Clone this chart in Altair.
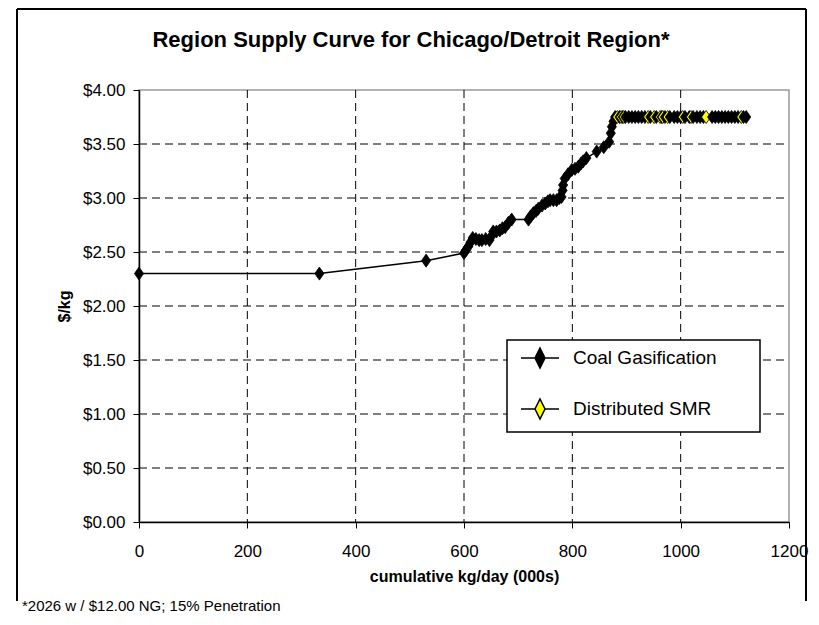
import altair as alt
import pandas as pd

# ---- data ----
coal_rise_x = [0, 333, 530, 600, 604, 608, 612, 616, 622, 628,
               633, 640, 647, 651, 654, 660, 666, 671, 676, 682,
               688, 719, 723, 728, 733, 737, 744, 750, 755, 759,
               765, 771, 776, 780, 782, 783, 786, 792, 799, 805,
               811, 816, 820, 826, 845, 858, 868, 871, 873, 876,
               879]
coal_rise_y = [2.30, 2.30, 2.42, 2.49, 2.52, 2.55, 2.59, 2.63, 2.62, 2.61,
               2.61, 2.62, 2.61, 2.65, 2.69, 2.69, 2.70, 2.72, 2.73, 2.77,
               2.80, 2.80, 2.83, 2.86, 2.88, 2.90, 2.93, 2.95, 2.97, 2.98,
               2.98, 2.98, 3.00, 3.01, 3.07, 3.12, 3.18, 3.22, 3.26, 3.27,
               3.29, 3.32, 3.34, 3.37, 3.43, 3.47, 3.52, 3.60, 3.66, 3.71,
               3.75]
coal_flat_x = [887, 893, 898, 904, 910, 916, 922, 928, 934, 944,
               955, 965, 971, 980, 988, 994, 1000, 1008, 1016, 1023,
               1030, 1036, 1042, 1058, 1064, 1070, 1076, 1082, 1088, 1094,
               1100, 1106, 1116, 1121]
coal_flat_y = [3.75, 3.75, 3.75, 3.75, 3.75, 3.75, 3.75, 3.75, 3.75, 3.75,
               3.75, 3.75, 3.75, 3.75, 3.75, 3.75, 3.75, 3.75, 3.75, 3.75,
               3.75, 3.75, 3.75, 3.75, 3.75, 3.75, 3.75, 3.75, 3.75, 3.75,
               3.75, 3.75, 3.75, 3.75]
smr_x = [883, 890, 895, 940, 951, 962, 967, 976, 1004, 1019, 1047, 1112]
smr_y = [3.75, 3.75, 3.75, 3.75, 3.75, 3.75, 3.75, 3.75, 3.75, 3.75, 3.75, 3.75]

series_names = ["Coal Gasification", "Distributed SMR"]
series_fill = ["#000000", "#FFFF00"]

x_ticks = [0, 200, 400, 600, 800, 1000, 1200]
y_ticks = [0, 0.5, 1.0, 1.5, 2.0, 2.5, 3.0, 3.5, 4.0]
x_grid = [200, 400, 600, 800, 1000]
y_grid = [0.5, 1.0, 1.5, 2.0, 2.5, 3.0, 3.5]

title_text = "Region Supply Curve for Chicago/Detroit Region*"
x_title = "cumulative kg/day (000s)"
y_title = "$/kg"
footnote = "*2026 w / $12.00 NG; 15% Penetration"

FONT = "Liberation Sans"
W, H = 650, 432

coal = pd.DataFrame({"x": coal_rise_x + coal_flat_x, "y": coal_rise_y + coal_flat_y,
                     "series": series_names[0]})
smr = pd.DataFrame({"x": smr_x, "y": smr_y, "series": series_names[1]})
pts = pd.concat([coal, smr]).sort_values("x", kind="stable").reset_index(drop=True)
pts["order"] = list(range(len(pts)))

xs = alt.Scale(domain=[0, 1200], nice=False, zero=False)
ys = alt.Scale(domain=[0, 4], nice=False)

x_axis = alt.Axis(values=x_ticks, title=x_title, grid=False, format="d", labelFlush=False,
                  labelPadding=15, titlePadding=9)
y_axis = alt.Axis(values=y_ticks, title=y_title, grid=False, format="$.2f", labelFlush=False,
                  labelPadding=8, titlePadding=10)

X = alt.X("x:Q", scale=xs, axis=x_axis)
Y = alt.Y("y:Q", scale=ys, axis=y_axis)

gx = pd.DataFrame({"x": x_grid})
gy = pd.DataFrame({"y": y_grid})

grid_x = alt.Chart(gx).mark_rule(color="black", strokeWidth=1, strokeDash=[8, 5]).encode(
    x=X, y=alt.value(0), y2=alt.value(H))
grid_y = alt.Chart(gy).mark_rule(color="black", strokeWidth=1, strokeDash=[8, 5]).encode(
    y=Y, x=alt.value(0), x2=alt.value(W))

lines = alt.Chart(pts).mark_line(color="black", strokeWidth=1.5).encode(
    x=X, y=Y, detail="series:N", order="x:Q")

DIAMOND = "M0,-1L0.7,0L0,1L-0.7,0Z"
LEG_SYM = "M-1.9,0L-0.5,0M0,-1L0.5,0L0,1L-0.5,0ZM0.5,0L1.9,0"

points = alt.Chart(pts).mark_point(shape=DIAMOND, size=170, filled=True, opacity=1,
                                   stroke="black", strokeWidth=0.8).encode(
    x=X, y=Y,
    fill=alt.Fill("series:N", scale=alt.Scale(domain=series_names, range=series_fill),
                  legend=alt.Legend(title=None, orient="none", legendX=368, legendY=249,
                                    direction="vertical", padding=8,
                                    symbolType=LEG_SYM, symbolSize=400,
                                    symbolStrokeColor="black", symbolStrokeWidth=1.5,
                                    symbolOffset=14, labelOffset=22, rowPadding=25,
                                    labelFont=FONT, labelFontSize=19, labelColor="black")),
    order=alt.Order("order:Q"))

one = pd.DataFrame({"a": [0]})
legend_box = alt.Chart(one).mark_rect(fill="white", stroke="black", strokeWidth=1.5).encode(
    x=alt.value(368), x2=alt.value(621), y=alt.value(250), y2=alt.value(342))
title_mark = alt.Chart(one).mark_text(text=title_text, font=FONT, fontSize=22, fontWeight="bold",
                                      align="center", baseline="middle", color="black").encode(
    x=alt.value(272), y=alt.value(-50))
foot_mark = alt.Chart(one).mark_text(text=footnote, font=FONT, fontSize=15, align="left",
                                     baseline="middle", color="black").encode(
    x=alt.value(-117), y=alt.value(516))
b_left = alt.Chart(one).mark_rule(color="black", strokeWidth=2).encode(
    x=alt.value(-122), y=alt.value(-81), y2=alt.value(511))
b_right = alt.Chart(one).mark_rule(color="black", strokeWidth=2).encode(
    x=alt.value(667), y=alt.value(-81), y2=alt.value(511))
b_top = alt.Chart(one).mark_rule(color="black", strokeWidth=2).encode(
    y=alt.value(-81), x=alt.value(-122), x2=alt.value(667))

chart = alt.layer(grid_x, grid_y, lines, points, legend_box, title_mark, foot_mark,
                  b_left, b_right, b_top).properties(
    width=W, height=H,
    autosize=alt.AutoSizeParams(type="none"),
    padding={"left": 131, "top": 82, "right": 22, "bottom": 95},
).configure_view(stroke="#999999", strokeWidth=1.5).configure_axis(
    labelFont=FONT, labelFontSize=17, labelColor="black",
    titleFont=FONT, titleFontSize=16, titleFontWeight="bold", titleColor="black",
    domainColor="black", domainWidth=1.5, tickColor="black", tickSize=6, tickWidth=1,
)

chart.save("out.html", embed_options={"renderer": "svg", "actions": False})
